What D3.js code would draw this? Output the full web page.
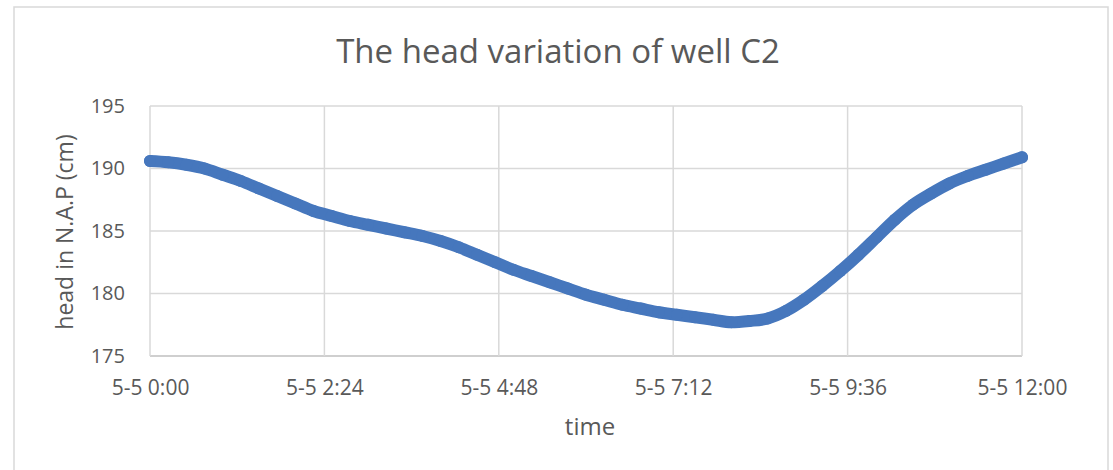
<!DOCTYPE html>
<html>
<head>
<meta charset="utf-8">
<script src="https://cdn.jsdelivr.net/npm/d3@7"></script>
<style>
  body { margin: 0; background: #fff; }
  text { font-family: "Open Sans", sans-serif; fill: #595959; }
</style>
</head>
<body>
<div id="Chart"></div>
<script>
// hours after 5-5 0:00
var hours = [0, 0.25, 0.5, 0.75, 1, 1.25, 1.5, 1.75, 2, 2.25, 2.5, 2.75, 3, 3.25, 3.5, 3.75,
             4, 4.25, 4.5, 4.75, 5, 5.25, 5.5, 5.75, 6, 6.25, 6.5, 6.75, 7, 7.25, 7.5, 7.75,
             8, 8.25, 8.5, 8.75, 9, 9.25, 9.5, 9.75, 10, 10.25, 10.5, 10.75, 11, 11.25, 11.5, 11.75, 12];
var head = [190.6, 190.5, 190.3, 190.0, 189.5, 189.0, 188.4, 187.8, 187.2, 186.6, 186.2, 185.8,
            185.5, 185.2, 184.9, 184.6, 184.2, 183.7, 183.1, 182.5, 181.9, 181.4, 180.9, 180.4,
            179.9, 179.5, 179.1, 178.8, 178.5, 178.3, 178.1, 177.9, 177.7, 177.8, 178.0, 178.6,
            179.5, 180.6, 181.8, 183.1, 184.5, 185.9, 187.1, 188.0, 188.8, 189.4, 189.9, 190.4, 190.9];
var xTicks = [0, 2.4, 4.8, 7.2, 9.6, 12];
var xTickLabels = ["5-5 0:00", "5-5 2:24", "5-5 4:48", "5-5 7:12", "5-5 9:36", "5-5 12:00"];
var yTicks = [175, 180, 185, 190, 195];

var width = 1113, height = 470;
var margin = {top: 106, right: 91, bottom: 114, left: 150};

var svg = d3.select("#Chart").append("svg")
    .attr("width", width)
    .attr("height", height);

// chart frame
svg.append("rect")
    .attr("x", 14).attr("y", 7)
    .attr("width", 1094).attr("height", 480)
    .attr("fill", "none")
    .attr("stroke", "#d9d9d9")
    .attr("stroke-width", 1.5);

var x = d3.scaleLinear().domain([0, 12]).range([margin.left, width - margin.right]);
var y = d3.scaleLinear().domain([175, 195]).range([height - margin.bottom, margin.top]);

// grid
svg.append("g").selectAll("line.h")
    .data(yTicks)
    .enter().append("line")
    .attr("x1", x(0)).attr("x2", x(12))
    .attr("y1", d => y(d)).attr("y2", d => y(d))
    .attr("stroke", d => d === 175 ? "#bfbfbf" : "#d9d9d9")
    .attr("stroke-width", 1.5);

svg.append("g").selectAll("line.v")
    .data(xTicks)
    .enter().append("line")
    .attr("x1", d => x(d)).attr("x2", d => x(d))
    .attr("y1", y(195)).attr("y2", y(175))
    .attr("stroke", "#d9d9d9")
    .attr("stroke-width", 1.5);

// axes (labels only)
var yAxis = svg.append("g")
    .attr("transform", "translate(" + x(0) + ",0)")
    .call(d3.axisLeft(y).tickValues(yTicks).tickSize(0).tickPadding(25));
yAxis.select(".domain").remove();
yAxis.selectAll("text")
    .style("font-size", "20px")
    .attr("fill", "#595959")
    .style("font-family", "'Open Sans', sans-serif");

var xAxis = svg.append("g")
    .attr("transform", "translate(0," + y(175) + ")")
    .call(d3.axisBottom(x).tickValues(xTicks).tickSize(0).tickPadding(24)
        .tickFormat((d, i) => xTickLabels[i]));
xAxis.select(".domain").remove();
xAxis.selectAll("text")
    .style("font-size", "21px")
    .attr("fill", "#595959")
    .style("font-family", "'Open Sans', sans-serif");

// data as dense markers
var pts = hours.map((h, i) => ({t: h, v: head[i]}));
var line = d3.line()
    .x(d => x(d.t))
    .y(d => y(d.v))
    .curve(d3.curveMonotoneX);

svg.append("path")
    .datum(pts)
    .attr("d", line)
    .attr("fill", "none")
    .attr("stroke", "#4677bd")
    .attr("stroke-width", 12)
    .attr("stroke-linecap", "round");

svg.append("g").selectAll("circle")
    .data(pts)
    .enter().append("circle")
    .attr("cx", d => x(d.t))
    .attr("cy", d => y(d.v))
    .attr("r", 6)
    .attr("fill", "#4677bd");

// titles
svg.append("text")
    .attr("x", 558).attr("y", 63)
    .attr("text-anchor", "middle")
    .style("font-size", "33px")
    .text("The head variation of well C2");

svg.append("text")
    .attr("x", (x(0) + x(12)) / 2 + 4).attr("y", 435)
    .attr("text-anchor", "middle")
    .style("font-size", "24px")
    .text("time");

svg.append("text")
    .attr("transform", "translate(73," + (y(185) + 1) + ") rotate(-90)")
    .attr("text-anchor", "middle")
    .style("font-size", "23px")
    .text("head in N.A.P (cm)");
</script>
</body>
</html>
